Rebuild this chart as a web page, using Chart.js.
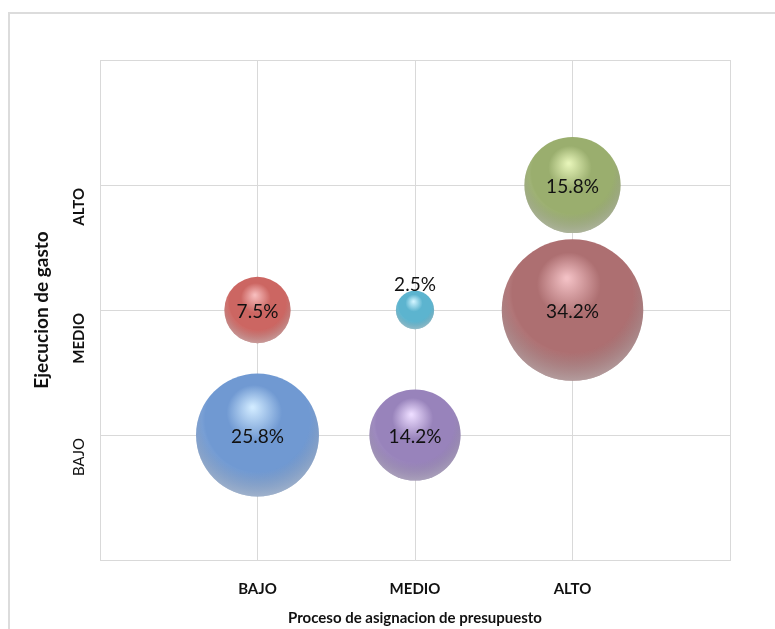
<!DOCTYPE html>
<html>
<head>
<meta charset="utf-8">
<script src="https://cdn.jsdelivr.net/npm/chart.js@4.4.0/dist/chart.umd.min.js"></script>
<style>
  html, body { margin: 0; padding: 0; background: #fff; overflow: hidden; }
  #wrap { width: 775px; height: 629px; }
</style>
</head>
<body>
<div id="wrap"><canvas id="report"></canvas></div>
<script>
// categories for both axes
const levels = ['', 'BAJO', 'MEDIO', 'ALTO', ''];

// one bubble per combination (x = asignacion, y = ejecucion)
const bubbleX = [1, 1, 2, 2, 3, 3];
const bubbleY = [1, 2, 1, 2, 2, 3];
const shares = [25.8, 7.5, 14.2, 2.5, 34.2, 15.8];
const baseColors = ['#7099d2', '#cc6662', '#9883bb', '#5cb4cf', '#ad6f71', '#9aae6e'];
const lightColors = ['#d0eaff', '#f6bcbc', '#ecdcff', '#d0f4ff', '#f2c0c4', '#e6f4b8'];
const darkColors = ['#4c6c9b', '#954442', '#5e4d7c', '#357f96', '#6f4648', '#636f44'];

const sizeFactor = 12.1; // pixel radius per sqrt(percent)

var scoresChart;

function bubbleCenter(chart, i) {
    return {
        x: chart.scales.x.getPixelForValue(bubbleX[i]),
        y: chart.scales.y.getPixelForValue(bubbleY[i]),
        r: sizeFactor * Math.sqrt(shares[i])
    };
}

function sphereFill(context) {
    const i = context.dataIndex;
    const chart = context.chart;
    if (!chart.chartArea) return baseColors[i];
    const c = bubbleCenter(chart, i);
    const g = chart.ctx.createRadialGradient(c.x - c.r * 0.08, c.y - c.r * 0.45, c.r * 0.02, c.x, c.y - c.r * 0.2, c.r * 1.25);
    g.addColorStop(0, lightColors[i]);
    g.addColorStop(0.35, baseColors[i]);
    g.addColorStop(0.7, baseColors[i]);
    g.addColorStop(1, darkColors[i]);
    return g;
}

// outer frame of the chart object
const framePlugin = {
    id: 'frame',
    beforeDraw(chart) {
        const ctx = chart.ctx;
        ctx.save();
        ctx.strokeStyle = '#dcdcdc';
        ctx.lineWidth = 2;
        ctx.strokeRect(9, 13, 820, 700);
        ctx.restore();
    }
};

// soft reflection on the lower rim, then the percent labels
const bubbleLabels = {
    id: 'bubbleLabels',
    afterDatasetsDraw(chart) {
        const ctx = chart.ctx;
        const meta = chart.getDatasetMeta(0);
        ctx.save();
        meta.data.forEach(function(pt, i) {
            const r = pt.options.radius;
            const g = ctx.createRadialGradient(pt.x, pt.y - r * 0.25, r * 0.85, pt.x, pt.y - r * 0.25, r * 1.25);
            g.addColorStop(0, 'rgba(255,255,255,0)');
            g.addColorStop(1, 'rgba(255,255,255,0.45)');
            ctx.beginPath();
            ctx.arc(pt.x, pt.y, r, 0, Math.PI * 2);
            ctx.fillStyle = g;
            ctx.fill();
        });
        ctx.font = '19px Lato, "Open Sans", sans-serif';
        ctx.fillStyle = '#111';
        ctx.textAlign = 'center';
        ctx.textBaseline = 'middle';
        meta.data.forEach(function(pt, i) {
            const r = pt.options.radius;
            let y = pt.y + 2;
            if (r < 25) y = pt.y - r - 6; // small bubble: label above
            ctx.fillText(shares[i].toFixed(1) + '%', pt.x, y);
        });
        ctx.restore();
    }
};

const ctx = document.getElementById('report').getContext('2d');

scoresChart = new Chart(ctx, {
    type: 'bubble',
    data: {
        datasets: [{
            label: 'Distribucion',
            data: shares.map(function(v, i) {
                return { x: bubbleX[i], y: bubbleY[i], r: sizeFactor * Math.sqrt(v) };
            }),
            backgroundColor: sphereFill,
            borderWidth: 0,
            hoverBorderWidth: 0
        }]
    },
    options: {
        responsive: true,
        maintainAspectRatio: false,
        animation: false,
        layout: { autoPadding: false, padding: { left: 30, top: 60, right: 45, bottom: 2 } },
        plugins: {
            legend: { display: false },
            tooltip: { enabled: false }
        },
        scales: {
            x: {
                type: 'linear',
                min: 0,
                max: 4,
                afterFit: function(scale) { scale.height = 67; },
                grid: { color: '#d9d9d9', drawTicks: false },
                border: { color: '#d9d9d9' },
                ticks: {
                    stepSize: 1,
                    padding: 20,
                    color: '#111',
                    font: { family: 'Lato, "Open Sans", sans-serif', size: 15, weight: 'bold' },
                    callback: function(v) { return levels[v]; }
                },
                title: {
                    display: true,
                    text: 'Proceso de asignacion de presupuesto',
                    color: '#111',
                    padding: { top: 0, bottom: 0 },
                    font: { family: 'Lato, "Open Sans", sans-serif', size: 15, weight: 'bold' }
                }
            },
            y: {
                type: 'linear',
                min: 0,
                max: 4,
                afterFit: function(scale) { scale.width = 70; },
                grid: { color: '#d9d9d9', drawTicks: false },
                border: { color: '#d9d9d9' },
                ticks: {
                    stepSize: 1,
                    padding: 21,
                    labelOffset: 3,
                    minRotation: 90,
                    maxRotation: 90,
                    color: '#111',
                    font: function(c) {
                        return {
                            family: 'Lato, "Open Sans", sans-serif',
                            size: 15,
                            weight: c.tick && c.tick.value === 1 ? 'normal' : 'bold'
                        };
                    },
                    callback: function(v) { return levels[v]; }
                },
                title: {
                    display: true,
                    text: 'Ejecucion de gasto',
                    color: '#111',
                    padding: { top: 0, bottom: 0 },
                    font: { family: 'Lato, "Open Sans", sans-serif', size: 19, weight: 'bold' }
                }
            }
        }
    },
    plugins: [framePlugin, bubbleLabels]
});
</script>
</body>
</html>
